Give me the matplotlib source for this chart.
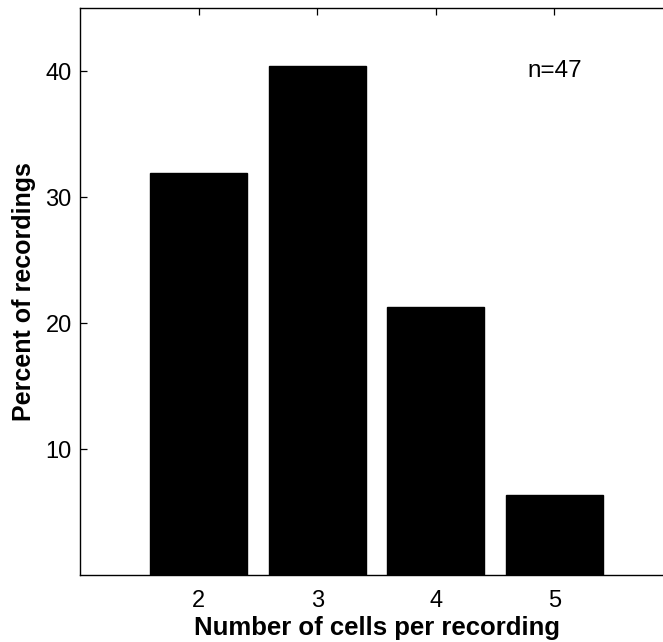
import numpy as np
import matplotlib.pyplot as plt

# Distribution of simultaneously recorded cells (n = 47 recordings)
cells = [2, 3, 4, 5]
counts = [15, 19, 10, 3]
n_total = sum(counts)
percent = [100.0 * c / n_total for c in counts]

plt.rcParams['font.family'] = ['Liberation Sans', 'DejaVu Sans']

fig = plt.figure(figsize=(6.63, 6.42), dpi=100)
ax = fig.add_axes([0.1207, 0.1044, 0.8944, 0.883])

ax.bar(cells, percent, width=0.82, color='black', edgecolor='black')

ax.set_xlim(1, 6)
ax.set_ylim(0, 45)
ax.set_xticks(cells)
ax.set_yticks([10, 20, 30, 40])
ax.tick_params(direction='in', length=5, width=0.9, labelsize=17,
               top=True, right=True)
ax.tick_params(axis='x', pad=11)
ax.tick_params(axis='y', pad=6)
for s in ax.spines.values():
    s.set_linewidth(1.0)

ax.text(5, 40, f"n={n_total}", ha='center', va='center', fontsize=17.5)

ax.set_xlabel("Number of cells per recording", fontsize=18.5, fontweight='bold',
              labelpad=3)
ax.set_ylabel("Percent of recordings", fontsize=18, fontweight='bold',
              labelpad=7)

fig.savefig("out.png", dpi=100)
